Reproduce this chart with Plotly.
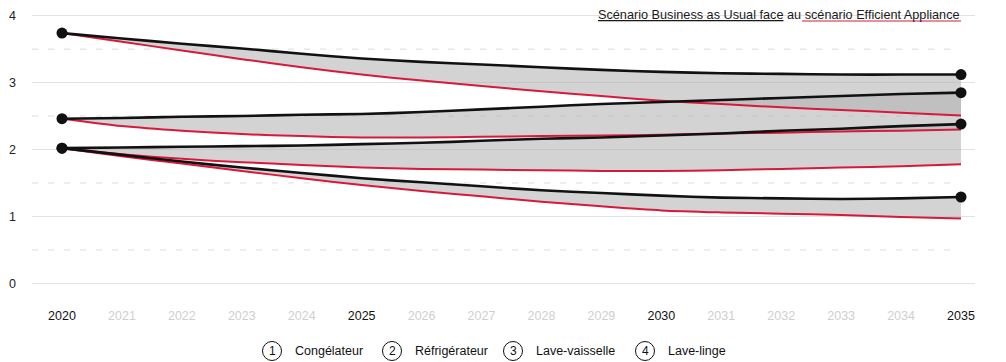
import plotly.graph_objects as go

# ---- data -----------------------------------------------------------------
years = list(range(2020, 2036))

appliances = ["Congélateur", "Réfrigérateur", "Lave-vaisselle", "Lave-linge"]

# Business as Usual scenario
bau_congelateur = [3.74, 3.66, 3.58, 3.51, 3.43, 3.36, 3.31, 3.27, 3.23, 3.19,
                   3.16, 3.14, 3.13, 3.12, 3.12, 3.12]
bau_refrigerateur = [2.46, 2.47, 2.49, 2.50, 2.52, 2.53, 2.56, 2.60, 2.64, 2.68,
                     2.71, 2.74, 2.77, 2.80, 2.83, 2.85]
bau_lave_vaisselle = [2.02, 2.03, 2.04, 2.05, 2.06, 2.08, 2.10, 2.13, 2.16, 2.18,
                      2.21, 2.24, 2.28, 2.31, 2.35, 2.38]
bau_lave_linge = [2.02, 1.92, 1.82, 1.73, 1.65, 1.57, 1.51, 1.45, 1.39, 1.35,
                  1.31, 1.28, 1.27, 1.26, 1.27, 1.29]

# Efficient Appliance scenario
ea_congelateur = [3.74, 3.61, 3.48, 3.35, 3.23, 3.12, 3.03, 2.95, 2.87, 2.80,
                  2.73, 2.68, 2.63, 2.59, 2.55, 2.51]
ea_refrigerateur = [2.46, 2.35, 2.28, 2.23, 2.20, 2.18, 2.18, 2.19, 2.20, 2.21,
                    2.22, 2.24, 2.25, 2.27, 2.28, 2.30]
ea_lave_vaisselle = [2.02, 1.93, 1.86, 1.81, 1.77, 1.73, 1.71, 1.70, 1.69, 1.68,
                     1.68, 1.69, 1.71, 1.73, 1.75, 1.78]
ea_lave_linge = [2.02, 1.90, 1.79, 1.68, 1.57, 1.47, 1.38, 1.30, 1.22, 1.15,
                 1.09, 1.06, 1.04, 1.02, 0.99, 0.97]

bau_series = [bau_congelateur, bau_refrigerateur, bau_lave_vaisselle, bau_lave_linge]
ea_series = [ea_congelateur, ea_refrigerateur, ea_lave_vaisselle, ea_lave_linge]

major_years = [2020, 2025, 2030, 2035]
y_ticks = [0, 1, 2, 3, 4]
y_half_ticks = [0.5, 1.5, 2.5, 3.5]

title_bau = "Scénario Business as Usual face"
title_mid = " au"
title_ea = " scénario Efficient Appliance"

# ---- style ----------------------------------------------------------------
FONT = "Liberation Sans, Arial, Helvetica, sans-serif"
BLACK = "#111111"
RED = "#d7193b"
FILL = "rgba(178,178,178,0.57)"
GRID = "#e2e2e2"

W, H = 1006, 362
ML, MR, MT, MB = 32, 31, 9, 72
PLOT_W = W - ML - MR
PLOT_H = H - MT - MB
X_RANGE = [2020 - 30 / 59.93, 2035 + 14 / 59.93]
Y_RANGE = [-0.1, 4.1]


def px_x(px):
    """Horizontal page pixel -> paper fraction."""
    return (px - ML) / PLOT_W


def px_y(py):
    """Vertical page pixel (from top) -> paper fraction."""
    return (H - MB - py) / PLOT_H


fig = go.Figure()

# shaded gap between the two scenarios, drawn first so every line sits above
for bau, ea in zip(bau_series, ea_series):
    fig.add_trace(go.Scatter(x=years, y=ea, mode="lines",
                             line=dict(width=0, shape="spline", smoothing=0.8),
                             hoverinfo="skip", showlegend=False))
    fig.add_trace(go.Scatter(x=years, y=bau, mode="lines", fill="tonexty",
                             fillcolor=FILL,
                             line=dict(width=0, shape="spline", smoothing=0.8),
                             hoverinfo="skip", showlegend=False))

# Efficient Appliance lines
for ea in ea_series:
    fig.add_trace(go.Scatter(x=years, y=ea, mode="lines",
                             line=dict(color=RED, width=2, shape="spline", smoothing=0.8),
                             hoverinfo="skip", showlegend=False))

# Business as Usual lines with end dots
for bau in bau_series:
    fig.add_trace(go.Scatter(x=years, y=bau, mode="lines",
                             line=dict(color=BLACK, width=2.6, shape="spline", smoothing=0.8),
                             hoverinfo="skip", showlegend=False))
    fig.add_trace(go.Scatter(x=[years[0], years[-1]], y=[bau[0], bau[-1]],
                             mode="markers", marker=dict(color=BLACK, size=11),
                             cliponaxis=False, hoverinfo="skip", showlegend=False))

# numbered badges at the right end, spread so they do not collide
ends = [s[-1] for s in bau_series]
order = sorted(range(len(ends)), key=lambda i: -ends[i])
pos = {i: ends[i] for i in order}
min_gap = 0.38
for _ in range(50):
    for a, b in zip(order, order[1:]):
        gap = pos[a] - pos[b]
        if gap < min_gap:
            d = (min_gap - gap) / 2
            pos[a] += d
            pos[b] -= d
badge_x = years[-1] + 36 / 59.93
fig.add_trace(go.Scatter(
    x=[badge_x] * len(ends), y=[pos[i] for i in range(len(ends))],
    mode="markers+text", text=[str(i + 1) for i in range(len(ends))],
    textposition="middle center",
    textfont=dict(family=FONT, size=12, color=BLACK),
    marker=dict(symbol="circle-open", size=19, color=BLACK, line=dict(width=1, color=BLACK)),
    cliponaxis=False, hoverinfo="skip", showlegend=False))

# x tick labels: major years dark, others faint
tick_text = [str(y) if y in major_years else f'<span style="color:#cfcfcf">{y}</span>'
             for y in years]

shapes = []
# dashed half-unit guides
for v in y_half_ticks:
    shapes.append(dict(type="line", xref="paper", yref="y", x0=0, x1=px_x(950),
                       y0=v, y1=v, layer="below",
                       line=dict(color="#dddddd", width=1, dash="6px,10px")))

# white patch hiding the top grid line behind the title
shapes.append(dict(type="rect", xref="paper", yref="paper",
                   x0=px_x(594), x1=1, y0=px_y(24), y1=px_y(6),
                   fillcolor="white", line=dict(width=0), layer="below"))

# red underline beneath the Efficient Appliance part of the title
shapes.append(dict(type="line", xref="paper", yref="paper",
                   x0=px_x(802), x1=px_x(961), y0=px_y(21), y1=px_y(21),
                   line=dict(color=RED, width=1)))

annotations = [dict(
    xref="paper", yref="paper", x=px_x(962), y=px_y(15.5),
    xanchor="right", yanchor="middle", showarrow=False,
    text=f"<u>{title_bau}</u>{title_mid}{title_ea}",
    font=dict(family=FONT, size=12.7, color="#1a1a1a"),
)]

# bottom key
legend_circle_px = [272, 392, 513, 645]
legend_y_px = 351
for i, (name, cx) in enumerate(zip(appliances, legend_circle_px)):
    shapes.append(dict(type="circle", xref="paper", yref="paper",
                       xsizemode="pixel", ysizemode="pixel",
                       xanchor=px_x(cx), yanchor=px_y(legend_y_px),
                       x0=-9.5, x1=9.5, y0=-9.5, y1=9.5,
                       line=dict(color=BLACK, width=1)))
    annotations.append(dict(xref="paper", yref="paper", x=px_x(cx), y=px_y(legend_y_px),
                            xanchor="center", yanchor="middle", showarrow=False,
                            text=str(i + 1), font=dict(family=FONT, size=12, color=BLACK)))
    annotations.append(dict(xref="paper", yref="paper", x=px_x(cx + 21), y=px_y(legend_y_px),
                            xanchor="left", yanchor="middle", showarrow=False,
                            text=name, font=dict(family=FONT, size=12.5, color=BLACK)))

fig.update_layout(
    width=W, height=H,
    margin=dict(l=ML, r=MR, t=MT, b=MB, pad=0),
    paper_bgcolor="white", plot_bgcolor="white",
    showlegend=False, hovermode=False,
    font=dict(family=FONT, size=12.5, color=BLACK),
    shapes=shapes, annotations=annotations,
    xaxis=dict(range=X_RANGE, tickvals=years, ticktext=tick_text,
               showgrid=False, zeroline=False, showline=False, ticks="",
               ticklabelstandoff=16, tickfont=dict(size=12.5, color=BLACK),
               fixedrange=True),
    yaxis=dict(range=Y_RANGE, tickvals=y_ticks, showgrid=True, gridcolor=GRID,
               gridwidth=1, zeroline=False, showline=False, ticks="",
               ticklabelstandoff=15, tickfont=dict(size=12.5, color="#222222"),
               fixedrange=True),
)

fig.write_html("out.html")
